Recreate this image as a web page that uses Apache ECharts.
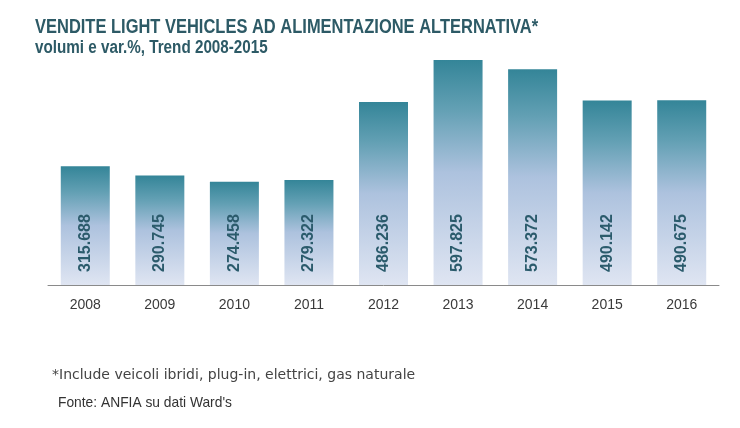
<!DOCTYPE html>
<html>
<head>
<meta charset="utf-8">
<script src="https://cdn.jsdelivr.net/npm/echarts@6/dist/echarts.min.js"></script>
<style>html,body{margin:0;padding:0;background:#fff}#c{width:740px;height:428px}</style>
</head>
<body>
<div id="c"></div>
<script>
var categories = ['2008','2009','2010','2011','2012','2013','2014','2015','2016'];
var volumes = [315688, 290745, 274458, 279322, 486236, 597825, 573372, 490142, 490675];
var titleText = 'VENDITE LIGHT VEHICLES AD ALIMENTAZIONE ALTERNATIVA*';
var subtitleText = 'volumi e var.%, Trend 2008-2015';
var footnote1 = '*Include veicoli ibridi, plug-in, elettrici, gas naturale';
var footnote2 = "Fonte: ANFIA su dati Ward's";

function fmt(v){ return String(v).replace(/\B(?=(\d{3})+(?!\d))/g, '.'); }

var chart = echarts.init(document.getElementById('c'), null, {renderer:'canvas'});
chart.setOption({
  animation: false,
  backgroundColor: '#ffffff',
  graphic: [
    {type:'text', x:35, y:28, scaleX:0.845, style:{text:titleText, fill:'#2d5a66',
      fontFamily:'Liberation Sans, Arial', fontWeight:'bold', fontSize:19.5, verticalAlign:'middle'}},
    {type:'text', x:35, y:48, scaleX:0.87, style:{text:subtitleText, fill:'#2d5a66',
      fontFamily:'Liberation Sans, Arial', fontWeight:'bold', fontSize:17.5, verticalAlign:'middle'}},
    {type:'text', x:52, y:375, style:{text:footnote1, fill:'#444444',
      fontFamily:'DejaVu Sans, Verdana', fontWeight:'normal', fontSize:14, verticalAlign:'middle'}},
    {type:'text', x:58, y:403, scaleX:0.92, style:{text:footnote2, fill:'#333333',
      fontFamily:'Liberation Sans, Arial', fontWeight:'normal', fontSize:15, verticalAlign:'middle'}}
  ],
  grid: {left: 48, right: 21, top: 59.2, bottom: 143, containLabel: false},
  xAxis: {
    type: 'category', data: categories,
    axisLine: {show:true, lineStyle:{color:'#8a8a8a', width:1}},
    axisTick: {show:false},
    axisLabel: {margin: 13, fontFamily:'Liberation Sans, Arial', fontSize:14, color:'#3a3a3a'}
  },
  yAxis: {type:'value', min:0, max:600000, show:false, splitLine:{show:false}},
  series: [{
    type: 'bar', data: volumes, barWidth: 49,
    itemStyle: {color: new echarts.graphic.LinearGradient(0,0,0,1,[
      {offset:0, color:'#348598'},
      {offset:0.22, color:'#63a0b4'},
      {offset:0.5, color:'#adc2de'},
      {offset:1, color:'#dfe5f2'}
    ])},
    label: {show:true, position:'insideBottom', rotate:90, distance:13, align:'left', verticalAlign:'middle',
      formatter: function(p){return fmt(p.value);},
      fontFamily:'Liberation Sans, Arial', fontWeight:'bold', fontSize:16, color:'#2b5b6c'}
  }]
});
</script>
</body>
</html>
